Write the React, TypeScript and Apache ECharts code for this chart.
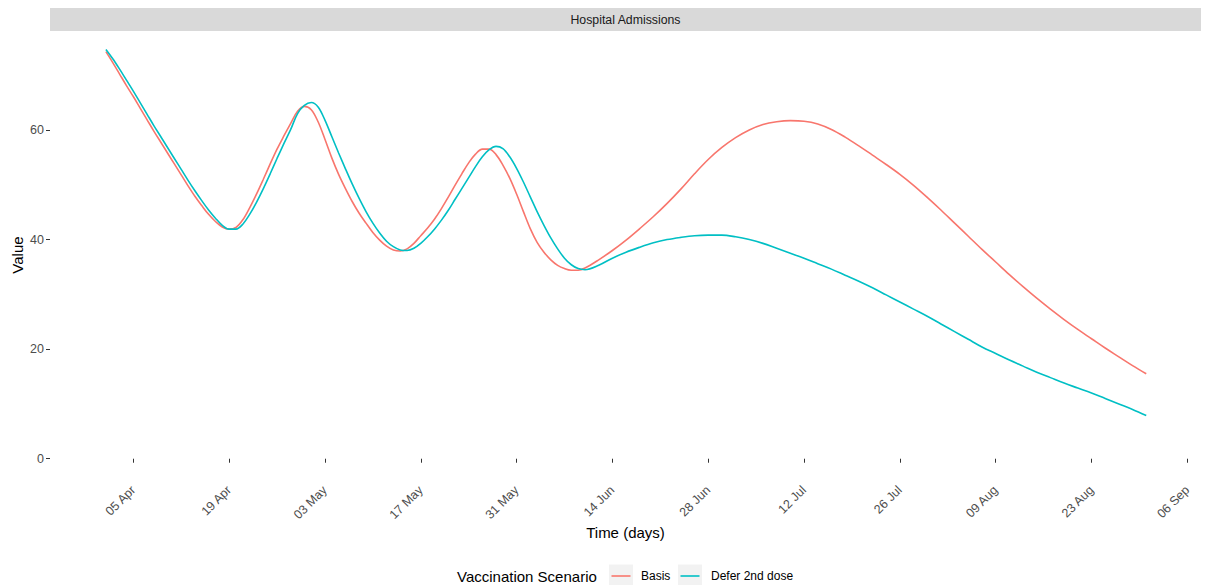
import React, { useEffect, useRef } from "react";
import * as echarts from "echarts";

// Day offsets counted from 1 April 2021 (daily through early June, then every other day)
const dayOffsets = [
  0, 1, 2, 3, 4, 5, 6, 7, 8, 9,
  10, 11, 12, 13, 14, 15, 16, 17, 18, 19,
  20, 21, 22, 23, 24, 25, 26, 27, 28, 29,
  30, 31, 32, 33, 34, 35, 36, 37, 38, 39,
  40, 41, 42, 43, 44, 45, 46, 47, 48, 49,
  50, 51, 52, 53, 54, 55, 56, 57, 58, 59,
  60, 61, 62, 63, 64, 65, 66, 67, 68, 69,
  70,
  72, 74, 76, 78, 80, 82, 84, 86, 88, 90,
  92, 94, 96, 98, 100, 102, 104, 106, 108, 110,
  112, 114, 116, 118, 120, 122, 124, 126, 128, 130,
  132, 134, 136, 138, 140, 142, 144, 146, 148, 150,
  152,
];

const basis = [
  74.3, 72.3, 70.2, 68.1, 66.1, 64.0, 61.9, 59.8, 57.8, 55.8,
  53.8, 51.8, 49.8, 47.9, 46.2, 44.6, 43.3, 42.3, 41.9, 42.2,
  43.6, 45.8, 48.3, 51.0, 53.8, 56.5, 58.9, 61.2, 63.4, 64.3,
  63.7, 61.5, 58.3, 54.9, 51.9, 49.3, 46.9, 44.8, 43.0, 41.3,
  39.9, 38.8, 38.1, 37.9, 38.3, 39.3, 40.7, 42.1, 43.7, 45.6,
  47.7, 49.9, 52.0, 54.0, 55.6, 56.5, 56.5, 55.5, 53.6, 51.2,
  48.3, 45.1, 42.0, 39.5, 37.7, 36.3, 35.3, 34.7, 34.4, 34.4,
  34.8,
  36.3, 38.0, 39.9, 42.0, 44.2, 46.6, 49.2, 52.0, 54.6, 56.8,
  58.6, 60.0, 61.0, 61.5, 61.7, 61.6, 61.1, 60.1, 58.7, 57.1,
  55.4, 53.7, 51.9, 49.9, 47.7, 45.4, 43.0, 40.6, 38.2, 35.9,
  33.6, 31.4, 29.3, 27.3, 25.4, 23.6, 21.9, 20.2, 18.6, 17.0,
  15.5,
];

const deferSecondDose = [
  74.7, 73.0, 71.1, 69.1, 67.1, 65.0, 62.9, 60.8, 58.8, 56.8,
  54.8, 52.8, 50.8, 48.9, 47.1, 45.4, 43.9, 42.6, 41.9, 41.9,
  42.8, 44.6, 46.8, 49.3, 52.0, 54.8, 57.5, 60.1, 63.0, 64.5,
  65.0, 64.2, 61.8, 58.8, 55.8, 52.9, 50.1, 47.5, 45.1, 43.0,
  41.2, 39.7, 38.7, 38.1, 38.0, 38.4, 39.3, 40.5, 41.9, 43.5,
  45.3, 47.3, 49.3, 51.3, 53.3, 55.1, 56.4, 57.0, 56.6, 55.1,
  53.0, 50.5, 47.8, 45.1, 42.6, 40.3, 38.3, 36.6, 35.4, 34.7,
  34.5,
  35.3, 36.6, 37.7, 38.6, 39.4, 40.0, 40.4, 40.7, 40.8, 40.8,
  40.5, 40.0, 39.3, 38.4, 37.5, 36.6, 35.6, 34.6, 33.5, 32.4,
  31.2, 29.9, 28.6, 27.3, 26.0, 24.6, 23.2, 21.8, 20.4, 19.2,
  18.0, 16.9, 15.8, 14.8, 13.8, 12.9, 12.0, 11.0, 10.0, 9.0,
  7.9,
];

const seriesNames = ["Basis", "Defer 2nd dose"];
const seriesColors = ["#F8766D", "#00BFC4"];

const xTickDates = [
  "2021-04-05", "2021-04-19", "2021-05-03", "2021-05-17",
  "2021-05-31", "2021-06-14", "2021-06-28", "2021-07-12",
  "2021-07-26", "2021-08-09", "2021-08-23", "2021-09-06",
];
const yTicks = [0, 20, 40, 60];

const MONTHS = ["Jan", "Feb", "Mar", "Apr", "May", "Jun", "Jul", "Aug", "Sep", "Oct", "Nov", "Dec"];
const DAY_MS = 86400000;
const T0 = Date.UTC(2021, 3, 1);
const FONT = '"Liberation Sans", Arial, sans-serif';

const toTime = (d: number) => T0 + d * DAY_MS;
const parseDate = (s: string) => {
  const [y, m, d] = s.split("-").map(Number);
  return Date.UTC(y, m - 1, d);
};
const fmtDate = (v: number) => {
  const dt = new Date(Math.round(v / DAY_MS) * DAY_MS);
  const dd = String(dt.getUTCDate()).padStart(2, "0");
  return `${dd} ${MONTHS[dt.getUTCMonth()]}`;
};

export default function App() {
  const ref = useRef<HTMLDivElement>(null);

  useEffect(() => {
    if (!ref.current) return;
    const chart = echarts.init(ref.current, undefined, { renderer: "svg" });

    const xTicks = xTickDates.map(parseDate);
    const seriesData = [basis, deferSecondDose];

    const legendKeys: any[] = [];
    const keyBoxes = [609, 678];
    const keyText = [641, 711];
    seriesNames.forEach((name, i) => {
      legendKeys.push(
        {
          type: "rect",
          shape: { x: keyBoxes[i], y: 564.5, width: 24, height: 23 },
          style: { fill: "#F2F2F2" },
        },
        {
          type: "line",
          shape: { x1: keyBoxes[i] + 2.5, y1: 576, x2: keyBoxes[i] + 21.5, y2: 576 },
          style: { stroke: seriesColors[i], lineWidth: 1.6 },
        },
        {
          type: "text",
          x: keyText[i],
          y: 576,
          style: {
            text: name,
            fill: "#000000",
            font: `12px ${FONT}`,
            align: "left",
            textAlign: "left",
            verticalAlign: "middle",
            textVerticalAlign: "middle",
          },
        }
      );
    });

    chart.setOption({
      animation: false,
      backgroundColor: "#FFFFFF",
      grid: { left: 50, right: 8, top: 31, height: 448, containLabel: false },
      xAxis: {
        type: "value",
        min: toTime(-8.17),
        max: toTime(160),
        axisLine: { show: false },
        splitLine: { show: false },
        axisTick: {
          show: true,
          length: 4,
          customValues: xTicks,
          lineStyle: { color: "#333333", width: 1 },
        },
        axisLabel: {
          show: true,
          rotate: 45,
          margin: 9,
          color: "#4D4D4D",
          fontSize: 12.5,
          fontFamily: FONT,
          customValues: xTicks,
          formatter: (v: number) => fmtDate(v),
        },
      },
      yAxis: {
        type: "value",
        min: -3.7,
        max: 78.06,
        axisLine: { show: false },
        splitLine: { show: false },
        axisTick: {
          show: true,
          length: 4,
          customValues: yTicks,
          lineStyle: { color: "#333333", width: 1 },
        },
        axisLabel: {
          show: true,
          margin: 6,
          color: "#4D4D4D",
          fontSize: 12.5,
          fontFamily: FONT,
          customValues: yTicks,
        },
      },
      series: seriesNames.map((name, i) => ({
        name,
        type: "line",
        showSymbol: false,
        smooth: 0.35,
        data: dayOffsets.map((d, k) => [toTime(d), seriesData[i][k]]),
        lineStyle: { color: seriesColors[i], width: 1.6 },
        itemStyle: { color: seriesColors[i] },
      })),
      graphic: [
        {
          type: "rect",
          shape: { x: 50, y: 8, width: 1151, height: 23 },
          style: { fill: "#D9D9D9" },
        },
        {
          type: "text",
          x: 625.5,
          y: 19.5,
          style: {
            text: "Hospital Admissions",
            fill: "#1A1A1A",
            font: `12.3px ${FONT}`,
            align: "center",
            textAlign: "center",
            verticalAlign: "middle",
            textVerticalAlign: "middle",
          },
        },
        {
          type: "text",
          x: 17,
          y: 255,
          rotation: Math.PI / 2,
          style: {
            text: "Value",
            fill: "#000000",
            font: `15px ${FONT}`,
            align: "center",
            textAlign: "center",
            verticalAlign: "middle",
            textVerticalAlign: "middle",
          },
        },
        {
          type: "text",
          x: 625.5,
          y: 532,
          style: {
            text: "Time (days)",
            fill: "#000000",
            font: `15px ${FONT}`,
            align: "center",
            textAlign: "center",
            verticalAlign: "middle",
            textVerticalAlign: "middle",
          },
        },
        {
          type: "text",
          x: 457,
          y: 576,
          style: {
            text: "Vaccination Scenario",
            fill: "#000000",
            font: `15px ${FONT}`,
            align: "left",
            textAlign: "left",
            verticalAlign: "middle",
            textVerticalAlign: "middle",
          },
        },
        ...legendKeys,
      ],
    });

    return () => chart.dispose();
  }, []);

  return (
    <div
      ref={ref}
      style={{ position: "absolute", left: 0, top: 0, width: 1209, height: 585 }}
    />
  );
}
